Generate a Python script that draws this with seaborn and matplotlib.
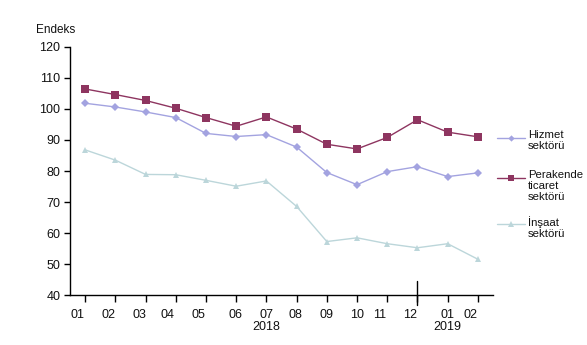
import matplotlib
matplotlib.use("Agg")
import matplotlib.pyplot as plt
import matplotlib.transforms as mtransforms
from matplotlib.lines import Line2D
import seaborn as sns
import pandas as pd

months = ["01", "02", "03", "04", "05", "06", "07", "08", "09", "10", "11", "12", "01", "02"]
hizmet = [101.8, 100.6, 99.0, 97.2, 92.1, 91.1, 91.7, 87.7, 79.5, 75.6, 79.8, 81.4, 78.2, 79.4]
perakende = [106.4, 104.6, 102.7, 100.2, 97.2, 94.4, 97.4, 93.5, 88.6, 87.1, 90.8, 96.5, 92.5, 91.0]
insaat = [86.8, 83.5, 78.9, 78.8, 77.0, 75.1, 76.8, 68.6, 57.3, 58.5, 56.6, 55.3, 56.6, 51.6]
series_names = ["Hizmet\nsektörü", "Perakende\nticaret\nsektörü", "İnşaat\nsektörü"]
years = ["2018", "2019"]

sns.set_theme(style="white")
plt.rcParams["font.family"] = ["Liberation Sans", "DejaVu Sans"]

idx = list(range(len(months)))
df = pd.DataFrame({
    "i": idx * 3,
    "value": hizmet + perakende + insaat,
    "series": [series_names[0]] * len(idx) + [series_names[1]] * len(idx) + [series_names[2]] * len(idx),
})

colors = {series_names[0]: "#a3a3e0", series_names[1]: "#8e3560", series_names[2]: "#bcd6da"}
markers = {series_names[0]: "D", series_names[1]: "s", series_names[2]: "^"}
msizes = {series_names[0]: 4, series_names[1]: 6, series_names[2]: 5}

W, H = 587, 345
fig = plt.figure(figsize=(W / 100, H / 100), dpi=100)
ax = fig.add_axes([70 / W, 1 - 295.3 / H, (493 - 70) / W, (295.3 - 46.7) / H])

for name in series_names:
    sub = df[df["series"] == name]
    sns.lineplot(data=sub, x="i", y="value", ax=ax, color=colors[name], marker=markers[name],
                 markersize=msizes[name], markeredgewidth=0, linewidth=1.0, legend=False)

ax.set_xlim(-0.5, len(months) - 0.5)
ax.set_ylim(40, 120)
ax.set_yticks(range(40, 121, 10))
ax.set_xticks(idx)
ax.set_xticklabels(months)
ax.set_xlabel("")
ax.set_ylabel("")

for s in ["top", "right"]:
    ax.spines[s].set_visible(False)
for s in ["left", "bottom"]:
    ax.spines[s].set_color("black")
    ax.spines[s].set_linewidth(1.0)

ax.tick_params(axis="y", direction="out", length=4, width=1, color="black", labelsize=9, pad=3,
               left=True, labelcolor="#111111")
ax.tick_params(axis="x", direction="out", length=5, width=1, color="black", labelsize=9, pad=5,
               bottom=True, labelcolor="#111111")

offsets = [-8, -7, -6, -8, -8, -1, 0, -1, 0, 0, -8, -7, 0, -7]
for lab, off in zip(ax.get_xticklabels(), offsets):
    lab.set_transform(lab.get_transform() + mtransforms.ScaledTranslation(off / 100, 0, fig.dpi_scale_trans))

# year separator
trans = mtransforms.blended_transform_factory(ax.transData, ax.transAxes)
ax.plot([11, 11], [14 / 248.6, -10 / 248.6], transform=trans, color="black", linewidth=1, clip_on=False)

ax.text(6, -32 / 248.6, years[0], transform=trans, ha="center", va="center", fontsize=9, color="#111111")
ax.text(12, -32 / 248.6, years[1], transform=trans, ha="center", va="center", fontsize=9, color="#111111")

fig.text(36 / W, 1 - 30 / H, "Endeks", ha="left", va="center", fontsize=8.5, color="#111111")

# legend (handle aligned with first line of each label)
leg_y = [138, 178, 224]
for name, yy in zip(series_names, leg_y):
    fig.add_artist(Line2D([497 / W, 525 / W], [1 - yy / H, 1 - yy / H], transform=fig.transFigure,
                          color=colors[name], linewidth=1.0))
    fig.add_artist(Line2D([511 / W], [1 - yy / H], transform=fig.transFigure, color=colors[name],
                          marker=markers[name], markersize=msizes[name] * 0.8, markeredgewidth=0,
                          linestyle="none"))
    fig.text(528 / W, 1 - (yy - 7.5) / H, name, ha="left", va="top", fontsize=8.2,
             linespacing=1.1, color="#111111")

fig.savefig("out.png", dpi=100)
